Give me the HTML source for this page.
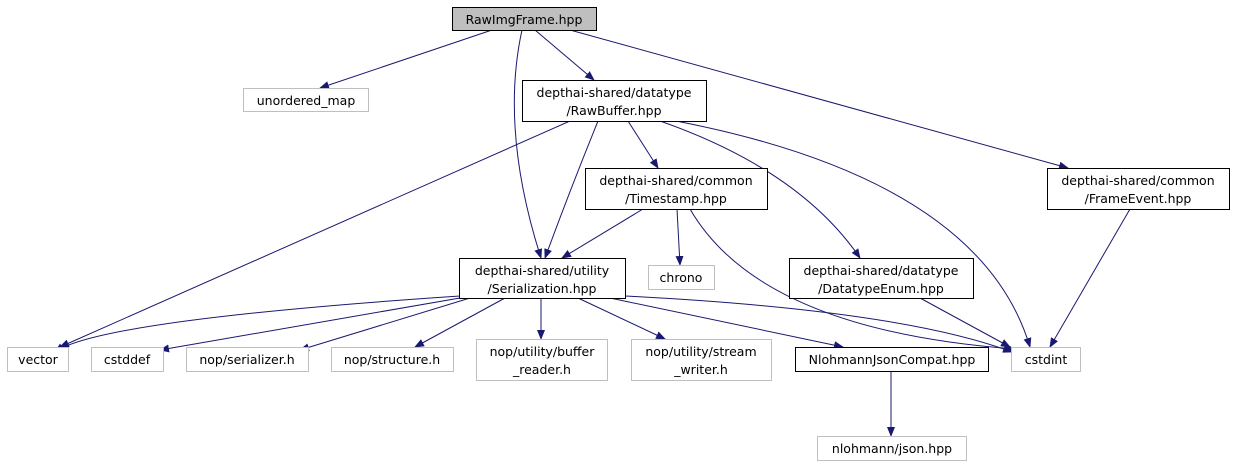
<!DOCTYPE html>
<html><head><meta charset="utf-8"><style>
html,body{margin:0;padding:0;background:#fff;}
svg text{font-family:"DejaVu Sans","Liberation Sans",sans-serif;font-size:12.5px;fill:#000;}
</style></head><body>
<svg width="1234" height="469" viewBox="0 0 1234 469" xmlns="http://www.w3.org/2000/svg">
<defs><marker id="a" markerWidth="10" markerHeight="8" refX="9" refY="4" orient="auto" markerUnits="userSpaceOnUse"><path d="M0,0 L10,4 L0,8 z" fill="#191970"/></marker></defs>
<g fill="none" stroke="#191970" stroke-width="1" marker-end="url(#a)">
<path d="M492,30 L320,88"/>
<path d="M535,30 L594,80"/>
<path d="M522,30 Q500,130 541,258"/>
<path d="M570,30 L1068,168"/>
<path d="M570,121 L60,347"/>
<path d="M598,121 Q570,190 545,258"/>
<path d="M628,121 L658,168"/>
<path d="M660,121 Q800,170 860,258"/>
<path d="M676,121 Q980,180 1030,347"/>
<path d="M643,209 L562,258"/>
<path d="M677,209 L680,265"/>
<path d="M690,209 Q760,330 1015,349"/>
<path d="M1130,209 L1050,347"/>
<path d="M920,298 L1010,347"/>
<path d="M460,296 Q100,320 55,352"/>
<path d="M460,298 L160,350"/>
<path d="M470,298 L300,350"/>
<path d="M505,298 L415,347"/>
<path d="M541,298 L541,339"/>
<path d="M578,298 L665,339"/>
<path d="M610,298 L843,347"/>
<path d="M625,296 Q900,310 1012,352"/>
<path d="M891,371 L891,436"/>
</g>
<g stroke-width="1">
<rect x="452.5" y="7.5" width="144" height="23" fill="#bfbfbf" stroke="#000"/>
<rect x="243.5" y="88.5" width="125" height="23" fill="#fff" stroke="#bfbfbf"/>
<rect x="522.5" y="80.5" width="184" height="41" fill="#fff" stroke="#000"/>
<rect x="585.5" y="168.5" width="182" height="41" fill="#fff" stroke="#000"/>
<rect x="1047.5" y="168.5" width="182" height="41" fill="#fff" stroke="#000"/>
<rect x="459.5" y="258.5" width="166" height="40" fill="#fff" stroke="#000"/>
<rect x="648.5" y="265.5" width="66" height="24" fill="#fff" stroke="#bfbfbf"/>
<rect x="789.5" y="258.5" width="184" height="40" fill="#fff" stroke="#000"/>
<rect x="7.5" y="347.5" width="61" height="24" fill="#fff" stroke="#bfbfbf"/>
<rect x="91.5" y="347.5" width="72" height="24" fill="#fff" stroke="#bfbfbf"/>
<rect x="186.5" y="347.5" width="122" height="24" fill="#fff" stroke="#bfbfbf"/>
<rect x="331.5" y="347.5" width="122" height="24" fill="#fff" stroke="#bfbfbf"/>
<rect x="476.5" y="339.5" width="131" height="41" fill="#fff" stroke="#bfbfbf"/>
<rect x="631.5" y="339.5" width="140" height="41" fill="#fff" stroke="#bfbfbf"/>
<rect x="795.5" y="347.5" width="193" height="24" fill="#fff" stroke="#000"/>
<rect x="1011.5" y="347.5" width="69" height="24" fill="#fff" stroke="#bfbfbf"/>
<rect x="817.5" y="436.5" width="149" height="24" fill="#fff" stroke="#bfbfbf"/>
</g>
<g text-anchor="middle">
<text x="524" y="24">RawImgFrame.hpp</text>
<text x="306" y="105">unordered_map</text>
<text x="614" y="97">depthai-shared/datatype</text>
<text x="614" y="115">/RawBuffer.hpp</text>
<text x="676" y="185">depthai-shared/common</text>
<text x="676" y="203">/Timestamp.hpp</text>
<text x="1138" y="185">depthai-shared/common</text>
<text x="1138" y="203">/FrameEvent.hpp</text>
<text x="542" y="275">depthai-shared/utility</text>
<text x="542" y="293">/Serialization.hpp</text>
<text x="681" y="282">chrono</text>
<text x="881" y="275">depthai-shared/datatype</text>
<text x="881" y="293">/DatatypeEnum.hpp</text>
<text x="38" y="364">vector</text>
<text x="127" y="364">cstddef</text>
<text x="247" y="364">nop/serializer.h</text>
<text x="392" y="364">nop/structure.h</text>
<text x="542" y="356">nop/utility/buffer</text>
<text x="542" y="374">_reader.h</text>
<text x="701" y="356">nop/utility/stream</text>
<text x="701" y="374">_writer.h</text>
<text x="892" y="364">NlohmannJsonCompat.hpp</text>
<text x="1046" y="364">cstdint</text>
<text x="892" y="453">nlohmann/json.hpp</text>
</g>
</svg>
</body></html>
